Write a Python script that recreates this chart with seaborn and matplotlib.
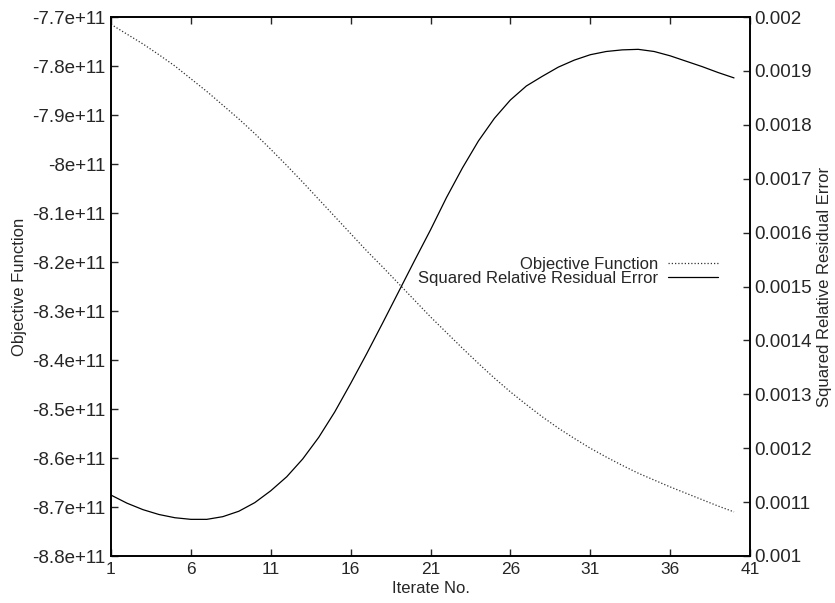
import numpy as np
import pandas as pd
import matplotlib
matplotlib.use("Agg")
import matplotlib.pyplot as plt
import seaborn as sns
from matplotlib.ticker import FormatStrFormatter

# values
iterations = list(range(1, 41))
objective = [  # x 1e11
    -7.715, -7.735, -7.755, -7.777, -7.800, -7.826, -7.852, -7.880, -7.908, -7.938,
    -7.970, -8.003, -8.037, -8.072, -8.107, -8.142, -8.177, -8.210, -8.244, -8.278,
    -8.312, -8.344, -8.376, -8.407, -8.437, -8.465, -8.491, -8.516, -8.539, -8.560,
    -8.580, -8.598, -8.615, -8.631, -8.645, -8.659, -8.672, -8.685, -8.698, -8.710,
]
residual = [  # x 1e-3
    1.113, 1.098, 1.086, 1.077, 1.071, 1.068, 1.068, 1.073, 1.083, 1.099,
    1.121, 1.147, 1.180, 1.220, 1.267, 1.320, 1.375, 1.432, 1.490, 1.548,
    1.605, 1.665, 1.720, 1.770, 1.812, 1.846, 1.872, 1.890, 1.907, 1.920,
    1.930, 1.936, 1.939, 1.940, 1.936, 1.928, 1.918, 1.908, 1.897, 1.887,
]
x_ticks = [1, 6, 11, 16, 21, 26, 31, 36, 41]
left_ticks = [-7.7e11, -7.8e11, -7.9e11, -8.0e11, -8.1e11, -8.2e11,
              -8.3e11, -8.4e11, -8.5e11, -8.6e11, -8.7e11, -8.8e11]
right_ticks = [0.001, 0.0011, 0.0012, 0.0013, 0.0014, 0.0015,
               0.0016, 0.0017, 0.0018, 0.0019, 0.002]

df = pd.DataFrame({
    "iter": iterations,
    "obj": np.array(objective) * 1e11,
    "res": np.array(residual) * 1e-3,
})

sns.set_style("ticks")
plt.rcParams["font.family"] = ["Liberation Sans", "DejaVu Sans"]
plt.rcParams["axes.unicode_minus"] = False
plt.rcParams["font.size"] = 12

fig = plt.figure(figsize=(8.35, 6.03), dpi=100)
ax = fig.add_axes([111 / 835, 47 / 603, 639 / 835, 539 / 603])
ax2 = ax.twinx()

sns.lineplot(data=df, x="iter", y="obj", ax=ax, color="#333333",
             linestyle=(0, (1, 1.6)), linewidth=0.9, legend=False,
             label="Objective Function")
sns.lineplot(data=df, x="iter", y="res", ax=ax2, color="black",
             linewidth=0.9, legend=False,
             label="Squared Relative Residual Error")

ax.set_xlim(1, 41)
ax.set_xticks(x_ticks)
ax.set_ylim(-8.8e11, -7.7e11)
ax.set_yticks(left_ticks)
ax.yaxis.set_major_formatter(FormatStrFormatter("%g"))
ax2.set_ylim(0.001, 0.002)
ax2.set_yticks(right_ticks)
ax2.yaxis.set_major_formatter(FormatStrFormatter("%g"))

ax.tick_params(axis="x", direction="in", top=True, length=5, width=1,
               labelsize=12.5, pad=4)
ax.tick_params(axis="y", direction="in", right=False, length=5, width=1,
               labelsize=13.5, pad=4)
ax2.tick_params(axis="y", direction="in", length=5, width=1,
                labelsize=13.5, pad=3)

for a in (ax, ax2):
    for s in a.spines.values():
        s.set_visible(True)
        s.set_linewidth(1.2)
        s.set_color("black")

ax.set_xlabel("Iterate No.", fontsize=12, labelpad=3)
ax.set_ylabel("Objective Function", fontsize=12, labelpad=4)
ax2.set_ylabel("Squared Relative Residual Error", fontsize=12, labelpad=4)

h1, l1 = ax.get_legend_handles_labels()
h2, l2 = ax2.get_legend_handles_labels()
ax2.legend(h1 + h2, l1 + l2, loc="center right",
           bbox_to_anchor=(0.95, 0.528), frameon=False, markerfirst=False,
           borderpad=0, borderaxespad=0, handlelength=3.0,
           handletextpad=0.6, labelspacing=-0.1, fontsize=12)

fig.savefig("out.png", dpi=100)
